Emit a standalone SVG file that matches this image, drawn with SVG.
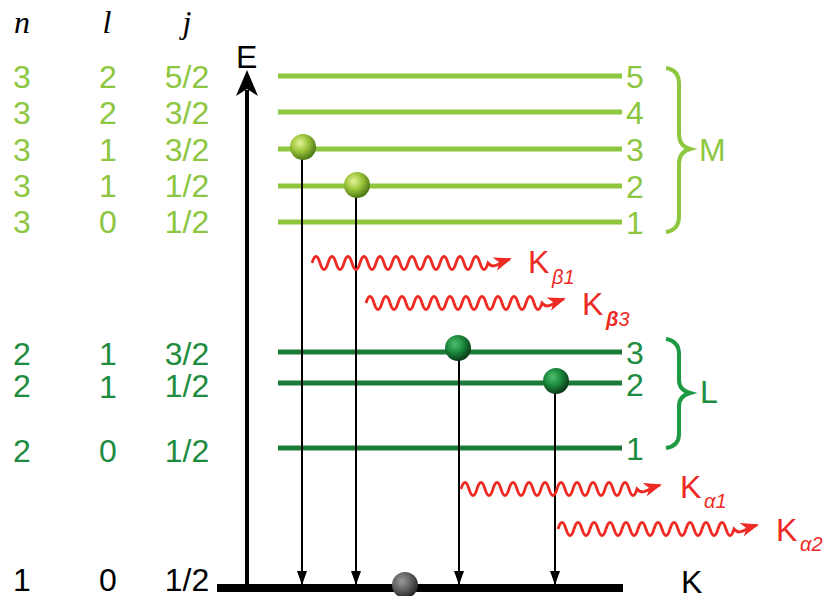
<svg xmlns="http://www.w3.org/2000/svg" width="830" height="596" viewBox="0 0 830 596">
<style>
text{font-family:"Liberation Sans",Arial,sans-serif;font-size:32px}
.hdr{font-family:"Liberation Serif","Times New Roman",serif;font-style:italic;font-size:32px;fill:#000}
.lg{fill:#8dc63f}
.dg{fill:#1e8c3f}
.bk{fill:#000}
.rd{fill:#ee2a24}
.lgl{stroke:#8dc63f;stroke-width:5}
.dgl{stroke:#1a7a37;stroke-width:5}
.tr{stroke:#000;stroke-width:2;fill:none;marker-end:url(#ah)}
.wave{stroke:#ee2a24;stroke-width:2.8;fill:none;marker-end:url(#rh)}
.sub{font-size:20px;font-style:italic}
.mid{text-anchor:middle}
</style>
<defs>
<marker id="ah" markerUnits="userSpaceOnUse" markerWidth="14" markerHeight="10" refX="13" refY="5" orient="auto" viewBox="0 0 14 10">
<path d="M0,0 L14,5 L0,10 z" fill="#000"/>
</marker>
<marker id="rh" markerUnits="userSpaceOnUse" markerWidth="20" markerHeight="14" refX="16" refY="7" orient="auto" viewBox="0 0 20 14">
<path d="M0,0 L18,7 L0,14 L5,7 z" fill="#ee2a24"/>
</marker>
<radialGradient id="gl" cx="38%" cy="35%" r="65%">
<stop offset="0" stop-color="#e3f29a"/>
<stop offset="0.5" stop-color="#9cc53a"/>
<stop offset="1" stop-color="#4f7a17"/>
</radialGradient>
<radialGradient id="gd" cx="38%" cy="35%" r="65%">
<stop offset="0" stop-color="#4fbf6c"/>
<stop offset="0.5" stop-color="#1b8a3e"/>
<stop offset="1" stop-color="#0a3d19"/>
</radialGradient>
<radialGradient id="gg" cx="38%" cy="35%" r="65%">
<stop offset="0" stop-color="#9a9a9a"/>
<stop offset="0.6" stop-color="#5a5a5a"/>
<stop offset="1" stop-color="#2a2a2a"/>
</radialGradient>
</defs>

<g id="table">
<text class="hdr mid" x="22" y="33">n</text>
<text class="hdr mid" x="107" y="33">l</text>
<text class="hdr mid" x="187" y="33">j</text>
<g class="lg">
<text class="mid" x="22" y="88">3</text><text class="mid" x="108" y="88">2</text><text class="mid" x="187" y="88">5/2</text>
<text class="mid" x="22" y="124">3</text><text class="mid" x="108" y="124">2</text><text class="mid" x="187" y="124">3/2</text>
<text class="mid" x="22" y="161">3</text><text class="mid" x="108" y="161">1</text><text class="mid" x="187" y="161">3/2</text>
<text class="mid" x="22" y="197">3</text><text class="mid" x="108" y="197">1</text><text class="mid" x="187" y="197">1/2</text>
<text class="mid" x="22" y="233">3</text><text class="mid" x="108" y="233">0</text><text class="mid" x="187" y="233">1/2</text>
</g>
<g class="dg">
<text class="mid" x="22" y="365">2</text><text class="mid" x="108" y="365">1</text><text class="mid" x="187" y="365">3/2</text>
<text class="mid" x="22" y="397">2</text><text class="mid" x="108" y="398">1</text><text class="mid" x="187" y="397">1/2</text>
<text class="mid" x="22" y="462">2</text><text class="mid" x="108" y="462">0</text><text class="mid" x="187" y="462">1/2</text>
</g>
<g class="bk">
<text class="mid" x="22" y="591">1</text><text class="mid" x="108" y="591">0</text><text class="mid" x="187" y="591">1/2</text>
</g>
</g>

<g id="axis">
<line x1="247" y1="588" x2="247" y2="90" stroke="#000" stroke-width="4"/>
<path d="M247,70 L258,96 L247,89 L236,96 z" fill="#000"/>
<text class="bk" x="236" y="68">E</text>
</g>

<g id="shell-M">
<line class="lgl" x1="278" y1="76" x2="622" y2="76"/>
<line class="lgl" x1="278" y1="112" x2="622" y2="112"/>
<line class="lgl" x1="278" y1="149" x2="622" y2="149"/>
<line class="lgl" x1="278" y1="186" x2="622" y2="186"/>
<line class="lgl" x1="278" y1="222" x2="622" y2="222"/>
<g class="lg">
<text class="mid" x="635" y="88">5</text>
<text class="mid" x="635" y="124">4</text>
<text class="mid" x="635" y="161">3</text>
<text class="mid" x="635" y="198">2</text>
<text class="mid" x="635" y="234">1</text>
<text x="699" y="161">M</text>
</g>
<path d="M666,68 Q679,70 679,84 L679,134 Q679,146 690,149 Q679,152 679,164 L679,216 Q679,230 666,232" fill="none" stroke="#8dc63f" stroke-width="4"/>
</g>

<g id="shell-L">
<line class="dgl" x1="278" y1="352" x2="622" y2="352"/>
<line class="dgl" x1="278" y1="383" x2="622" y2="383"/>
<line class="dgl" x1="278" y1="448" x2="622" y2="448"/>
<g class="dg">
<text class="mid" x="635" y="364">3</text>
<text class="mid" x="635" y="396">2</text>
<text class="mid" x="635" y="460">1</text>
<text x="700" y="403">L</text>
</g>
<path d="M666,339 Q679,341 679,354 L679,380 Q679,390 690,393 Q679,396 679,406 L679,434 Q679,446 666,448" fill="none" stroke="#1e9a45" stroke-width="4"/>
</g>

<g id="shell-K">
<line x1="217" y1="588" x2="623" y2="588" stroke="#000" stroke-width="8"/>
<text class="bk" x="681" y="593">K</text>
</g>

<g id="transitions">
<line class="tr" x1="302" y1="150" x2="302" y2="584"/>
<line class="tr" x1="356" y1="188" x2="356" y2="584"/>
<line class="tr" x1="459" y1="352" x2="459" y2="584"/>
<line class="tr" x1="555" y1="385" x2="555" y2="584"/>
</g>

<g id="electrons">
<circle cx="303" cy="147" r="13" fill="url(#gl)"/>
<circle cx="357" cy="185" r="13" fill="url(#gl)"/>
<circle cx="458" cy="348" r="13" fill="url(#gd)"/>
<circle cx="556" cy="381" r="13" fill="url(#gd)"/>
<circle cx="405" cy="585" r="13" fill="url(#gg)"/>
</g>

<g id="photons">
<path class="wave" d="M312,263 q4,-13 8,0 t8,0 t8,0 t8,0 t8,0 t8,0 t8,0 t8,0 t8,0 t8,0 t8,0 t8,0 t8,0 t8,0 t8,0 t8,0 t8,0 t8,0 t8,0 t8,0 t8,0 t8,0 c6,7 10,0 22,-4"/>
<path class="wave" d="M366,303 q4,-13 8,0 t8,0 t8,0 t8,0 t8,0 t8,0 t8,0 t8,0 t8,0 t8,0 t8,0 t8,0 t8,0 t8,0 t8,0 t8,0 t8,0 t8,0 t8,0 t8,0 t8,0 t8,0 c6,7 10,0 22,-4"/>
<path class="wave" d="M461,489 q4,-13 8,0 t8,0 t8,0 t8,0 t8,0 t8,0 t8,0 t8,0 t8,0 t8,0 t8,0 t8,0 t8,0 t8,0 t8,0 t8,0 t8,0 t8,0 t8,0 t8,0 t8,0 t8,0 c6,7 10,0 23,-4"/>
<path class="wave" d="M558,529 q4,-13 8,0 t8,0 t8,0 t8,0 t8,0 t8,0 t8,0 t8,0 t8,0 t8,0 t8,0 t8,0 t8,0 t8,0 t8,0 t8,0 t8,0 t8,0 t8,0 t8,0 t8,0 t8,0 c6,7 10,0 23,-4"/>
<g class="rd">
<text x="528" y="273">K<tspan class="sub" x="552" y="284">β1</tspan></text>
<text x="582" y="315">K<tspan class="sub" x="606" y="326"><tspan font-weight="bold">β</tspan>3</tspan></text>
<text x="680" y="498">K<tspan class="sub" x="704" y="508">α1</tspan></text>
<text x="776" y="541">K<tspan class="sub" x="800" y="551">α2</tspan></text>
</g>
</g>
</svg>
